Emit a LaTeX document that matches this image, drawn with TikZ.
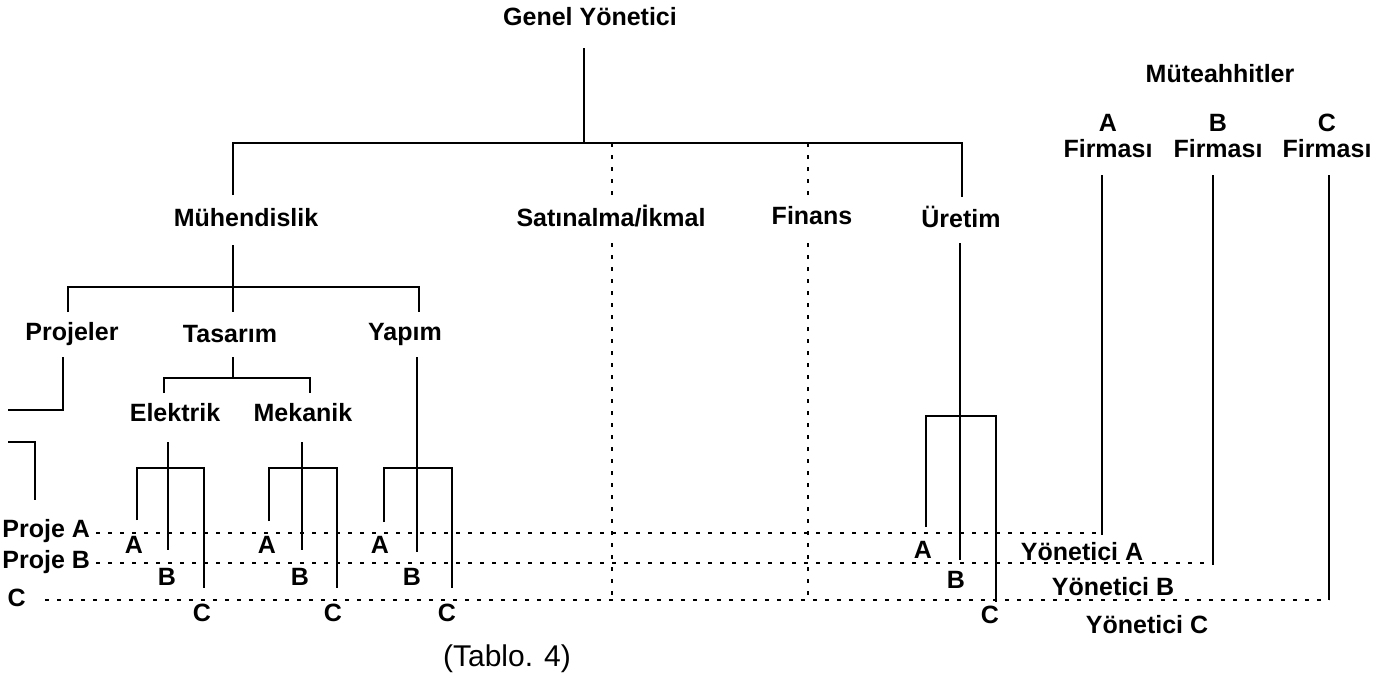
\documentclass[tikz,border=0pt]{standalone}
\usepackage{fontspec}
\setmainfont{Liberation Sans}
\begin{document}
\begin{tikzpicture}[x=0.5pt,y=-0.5pt,
  lbl/.style={font=\bfseries\fontsize{12.5pt}{14pt}\selectfont, inner sep=0pt, align=center},
  solidline/.style={line width=1.4pt, line cap=butt},
  dotline/.style={line width=1.4pt, dash pattern=on 2pt off 4pt}]
\useasboundingbox (0,0) rectangle (1387,687);

% ---------- labels ----------
\node[lbl] (gy)   at (590,17)  {Genel Yönetici};
\node[lbl] (muh)  at (246,218) {Mühendislik};
\node[lbl] (sat)  at (611,216) {Satınalma/İkmal};
\node[lbl] (fin)  at (812,216) {Finans};
\node[lbl] (ure)  at (961,217) {Üretim};
\node[lbl] (proj) at (72,334)  {Projeler};
\node[lbl] (tas)  at (230,334) {Tasarım};
\node[lbl] (yap)  at (405,334) {Yapım};
\node[lbl] (ele)  at (175,413) {Elektrik};
\node[lbl] (mek)  at (303,413) {Mekanik};
\node[lbl] (mut)  at (1220,74) {Müteahhitler};
\node[lbl] (fA)   at (1108,136) {A\\[-1pt]Firması};
\node[lbl] (fB)   at (1218,136) {B\\[-1pt]Firması};
\node[lbl] (fC)   at (1327,136) {C\\[-1pt]Firması};

\node[lbl,anchor=west] (pA) at (2,531) {Proje A};
\node[lbl,anchor=west] (pB) at (2,562) {Proje B};
\node[lbl,anchor=east] (pC) at (26,598) {C};

\node[lbl] (eA) at (134,545) {A}; \node[lbl] (eB) at (167,577) {B}; \node[lbl] (eC) at (202,613) {C};
\node[lbl] (mA) at (267,545) {A}; \node[lbl] (mB) at (300,577) {B}; \node[lbl] (mC) at (333,613) {C};
\node[lbl] (yA) at (380,545) {A}; \node[lbl] (yB) at (412,577) {B}; \node[lbl] (yC) at (447,613) {C};
\node[lbl] (uA) at (923,550) {A}; \node[lbl] (uB) at (956,580) {B}; \node[lbl] (uC) at (990,615) {C};

\node[lbl] (yonA) at (1082,552) {Yönetici A};
\node[lbl] (yonB) at (1113,587) {Yönetici B};
\node[lbl] (yonC) at (1147,625) {Yönetici C};

\node[font=\fontsize{15pt}{17pt}\selectfont, inner sep=0pt] (tab) at (507,659) {(Tablo. 4)};

% ---------- junction points ----------
\coordinate (gyS)  at (584,48);   \coordinate (gyJ)  at (584,143);
\coordinate (barL) at (233,143);  \coordinate (barR) at (962,143);
\coordinate (muhN) at (233,195);  \coordinate (ureN) at (962,197);
\coordinate (satT) at (612,143);  \coordinate (satN) at (612,197);
\coordinate (finT) at (808,143);  \coordinate (finN) at (808,197);
\coordinate (muhS) at (233,245);  \coordinate (muhJ) at (233,287);
\coordinate (b2L)  at (68,287);   \coordinate (b2R)  at (419,287);
\coordinate (projN) at (68,312);  \coordinate (tasN) at (233,312); \coordinate (yapN) at (419,312);
\coordinate (projS) at (63,357);  \coordinate (projK) at (63,410); \coordinate (projE) at (8,410);
\coordinate (prB1) at (8,442);    \coordinate (prB2) at (35,442);  \coordinate (prB3) at (35,500);
\coordinate (tasS) at (233,357);  \coordinate (tasJ) at (233,378);
\coordinate (b3L)  at (164,378);  \coordinate (b3R)  at (310,378);
\coordinate (eleN) at (164,393);  \coordinate (mekN) at (310,393);

% ---------- solid hierarchy ----------
\draw[solidline] (gyS) -- (gyJ);
\draw[solidline] (muhN) -- (barL) -- (barR) -- (ureN);
\draw[solidline] (muhS) -- (muhJ);
\draw[solidline] (projN) -- (b2L) -- (b2R) -- (yapN);
\draw[solidline] (muhJ) -- (tasN);
\draw[solidline] (projS) -- (projK) -- (projE);
\draw[solidline] (prB1) -- (prB2) -- (prB3);
\draw[solidline] (tasS) -- (tasJ);
\draw[solidline] (eleN) -- (b3L) -- (b3R) -- (mekN);

% three-way forks: stem top, stem bottom, bracket x-range, bracket y, leg ends
\foreach \nm/\sx/\st/\sb/\lx/\rx/\by/\la/\ra in {
    ele/168/442/550/137/204/468/520/588,
    mek/302/442/550/269/337/468/521/588,
    yap/417/357/552/384/452/468/522/588,
    ure/960/243/560/926/996/416/527/602}{
  \coordinate (\nm T) at (\sx,\st);  \coordinate (\nm B) at (\sx,\sb);
  \coordinate (\nm L) at (\lx,\by);  \coordinate (\nm R) at (\rx,\by);
  \coordinate (\nm LE) at (\lx,\la); \coordinate (\nm RE) at (\rx,\ra);
  \draw[solidline] (\nm T) -- (\nm B);
  \draw[solidline] (\nm LE) -- (\nm L) -- (\nm R) -- (\nm RE);
}

% contractor lines
\coordinate (fAt) at (1102,175); \coordinate (fAb) at (1102,535);
\coordinate (fBt) at (1213,175); \coordinate (fBb) at (1213,565);
\coordinate (fCt) at (1329,175); \coordinate (fCb) at (1329,600);
\draw[solidline] (fAt) -- (fAb);
\draw[solidline] (fBt) -- (fBb);
\draw[solidline] (fCt) -- (fCb);

% ---------- dotted project lines ----------
\draw[dotline] (satT) -- (satN);
\draw[dotline] (finT) -- (finN);
\coordinate (satS) at (612,243); \coordinate (satE) at (612,600);
\coordinate (finS) at (808,243); \coordinate (finE) at (808,600);
\draw[dotline] (satS) -- (satE);
\draw[dotline] (finS) -- (finE);
\coordinate (pCs) at (45,600);
\draw[dotline] ([xshift=3pt]pA.east |- 0,533) -- (fAb |- 0,533);
\draw[dotline] ([xshift=3pt]pB.east |- 0,563) -- (fBb |- 0,563);
\draw[dotline] (pCs) -- (fCb);
\end{tikzpicture}
\end{document}
